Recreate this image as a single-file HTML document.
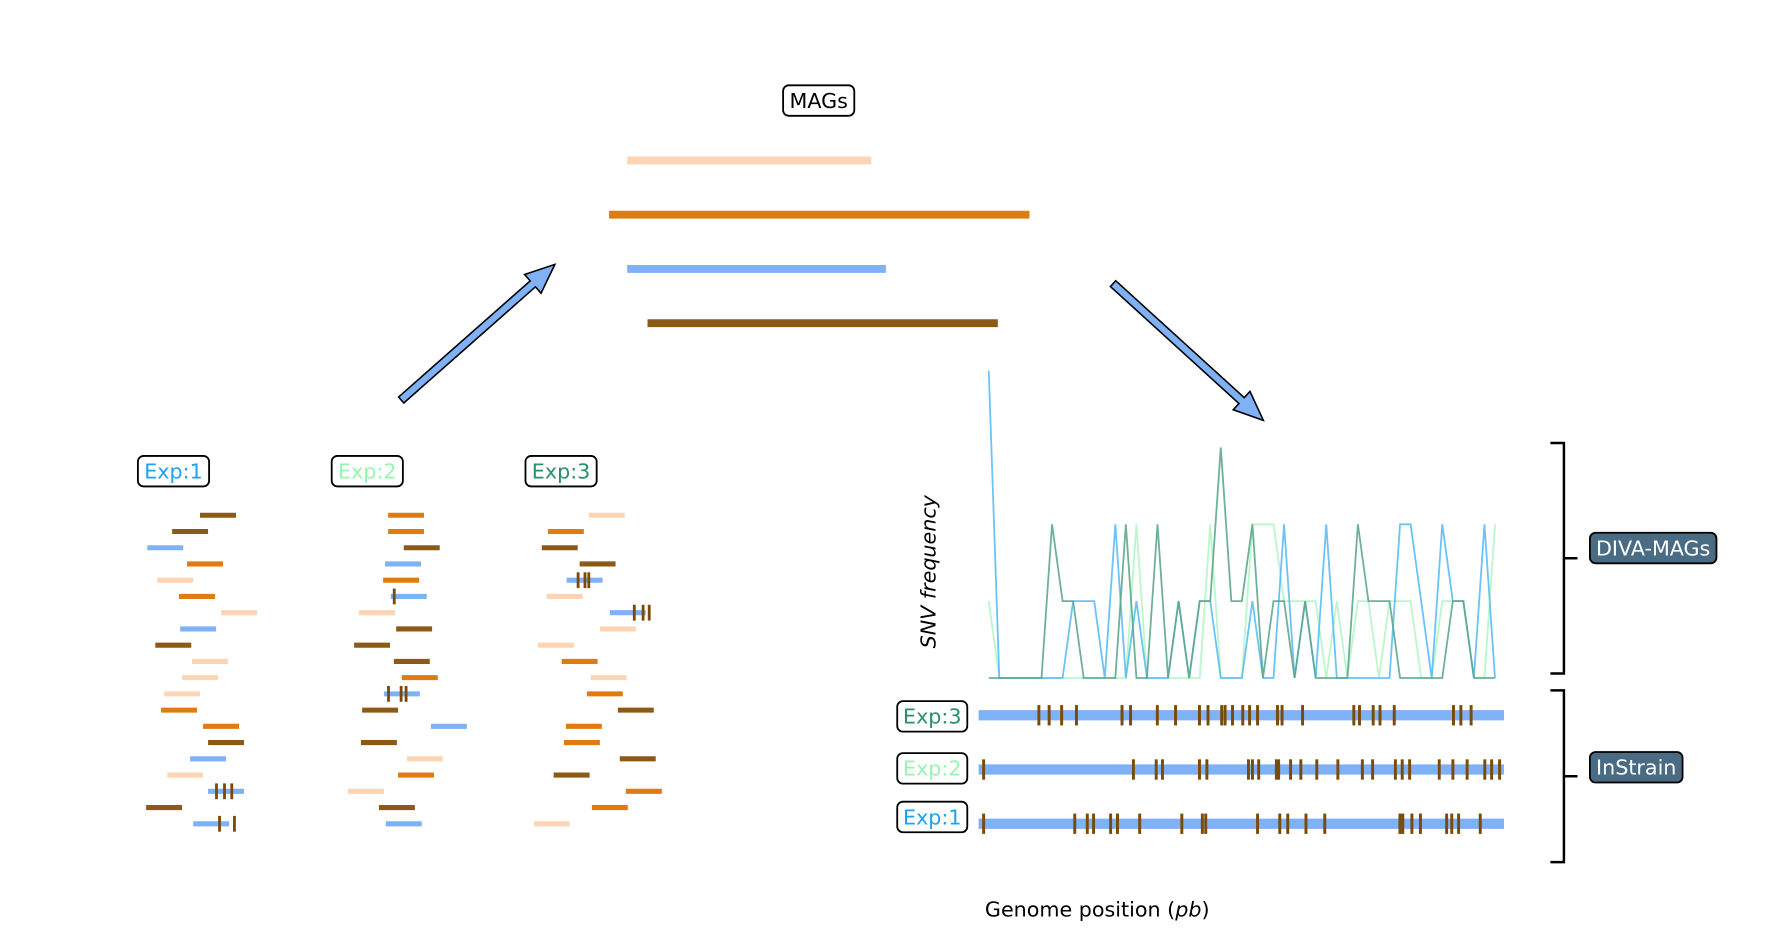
<!DOCTYPE html>
<html><head><meta charset="utf-8"><style>
html,body{margin:0;padding:0;background:#fff;}
svg{display:block;font-family:"DejaVu Sans","Liberation Sans",sans-serif;}
</style></head><body>
<svg id="fig" width="1773" height="939" viewBox="0 0 1569 831" xmlns="http://www.w3.org/2000/svg">
<g id="mags"></g>
<g id="reads"></g>
<g id="chart"></g>
<g id="instrain"></g>
<g id="labels"></g>
</svg>
<script>
// ---- data ----
const magColors = ["#fdd5b4","#e07b10","#7fb1f6","#8b5a17"];
const magStart = [555,539,555,573];
const magEnd = [771,911,784,883];
const magY = [142,190,238,286];

const readColorKeys = {P:"#fdd5b4",O:"#e07b10",B:"#7fb1f6",N:"#8b5a17"};
const g1Start=[261,188,123,227,149,206,316,209,144,240,214,167,159,269,282,235,175,282,120,243];
const g1Col="NNBOPOPBNPPPOONBPBNB";
const g2Start=[753,753,794,745,740,760,677,774,664,768,789,742,685,865,682,802,779,648,729,747];
const g2Col="OONBOBPNNNOBNBNPOPNB";
const g3Start=[1278,1171,1155,1254,1220,1168,1333,1307,1145,1207,1283,1273,1354,1218,1213,1359,1186,1375,1286,1134];
const g3Col="PONNBPBPPOPONOONNOOP";
const g1Ticks={17:[304,325,344],19:[312,351]};
const g2Ticks={5:[769],11:[754,787,800]};
const g3Ticks={4:[1250,1268,1278],6:[1397,1420,1436]};

const blueSeries=[4,0,0,0,0,0,0,0,1,1,1,0,2,0,1,0,0,0,1,0,1,1,0,0,0,1,0,0,2,0,1,0,2,0,0,0,0,0,0,2,2,1,0,2,1,1,0,2,0];
const darkSeries=[0,0,0,0,0,0,2,1,1,0,0,0,0,2,0,0,2,0,1,0,1,1,3,1,1,2,0,1,1,0,1,0,0,0,0,2,1,1,1,0,0,0,0,0,1,1,0,0,0];
const lightSeries=[1,0,0,0,0,0,0,0,0,0,0,0,0,0,2,0,0,0,0,0,0,2,0,0,0,2,2,2,1,1,1,1,0,1,0,1,1,0,1,1,1,0,0,1,1,1,0,0,2];

const exp3Ticks=[280,298,320,346,426,441,488,520,562,577,601,607,620,638,650,664,699,707,743,833,843,867,879,904,1008,1021,1039];
const exp2Ticks=[183,446,486,497,562,575,648,655,666,697,701,722,740,768,805,848,866,906,918,931,983,1007,1032,1063,1075,1089];
const exp1Ticks=[183,343,365,376,406,418,457,531,567,573,664,703,717,749,782,914,919,935,950,996,1005,1017,1055];

// ---- helpers ----
const NS="http://www.w3.org/2000/svg";
function mk(tag,attrs,parent){const e=document.createElementNS(NS,tag);for(const k in attrs)e.setAttribute(k,attrs[k]);parent.appendChild(e);return e;}
const readX=v=>88.7+v*0.3383;
const readLen=31.8;
const rowY=i=>456+i*14.37;
const chartX=i=>875+i*(448/48);
const chartY=v=>600-v*68;
const genomeX=v=>875+(v-192)*0.504;

// MAG bars
const gm=document.getElementById('mags');
for(let i=0;i<4;i++){
  const l=mk('line',{x1:magStart[i],x2:magEnd[i],y1:magY[i],y2:magY[i],stroke:magColors[i],'stroke-width':7},gm);
  
  
}

// reads
const gr=document.getElementById('reads');
[[g1Start,g1Col,g1Ticks],[g2Start,g2Col,g2Ticks],[g3Start,g3Col,g3Ticks]].forEach((g,gi)=>{
  g[0].forEach((s,i)=>{
    const x=readX(s);
    const l=mk('line',{x1:x,x2:x+readLen,y1:rowY(i),y2:rowY(i),stroke:readColorKeys[g[1][i]],'stroke-width':4.5},gr);
    
    
  });
  for(const r in g[2]){
    g[2][r].forEach(t=>{
      const x=readX(t);
      const l=mk('line',{x1:x,x2:x,y1:rowY(+r)-7,y2:rowY(+r)+7,stroke:"#7a4a08",'stroke-width':2.5},gr);
      
      
    });
  }
});

// chart
const gc=document.getElementById('chart');
[[lightSeries,"#b4f5c8"],[blueSeries,"#5bbcf7"],[darkSeries,"#5fa98c"]].forEach((s,si)=>{
  const pts=s[0].map((v,i)=>chartX(i)+','+chartY(v)).join(' ');
  const p=mk('polyline',{points:pts,fill:'none',stroke:s[1],'stroke-width':1.6,'stroke-opacity':0.9},gc);
  
  
});

// instrain bars
const gi=document.getElementById('instrain');
[[exp3Ticks,633],[exp2Ticks,681],[exp1Ticks,729]].forEach((e,k)=>{
  const b=mk('line',{x1:866,x2:1331,y1:e[1],y2:e[1],stroke:"#7fb1f6",'stroke-width':9},gi);
  
  
  e[0].forEach(t=>{
    const x=genomeX(t);
    const l=mk('line',{x1:x,x2:x,y1:e[1]-9,y2:e[1]+9,stroke:"#7a4a08",'stroke-width':2.6},gi);
    
    
  });
});

// labels and boxes
const gl=document.getElementById('labels');
function box(cx,cy,w,h,text,color,fill,name){
  const r=mk('rect',{x:cx-w/2,y:cy-h/2,width:w,height:h,rx:5,fill:fill,stroke:'#000','stroke-width':1.6},gl);
  
  
  const t=mk('text',{x:cx,y:cy+6.5,'text-anchor':'middle','font-size':18.3,fill:color},gl);
  t.textContent=text;
  
  
}
box(724.5,89,63,27,"MAGs","#000","#fff","mags-label");
box(153.5,417,63,27,"Exp:1","#1aa3f0","#fff","exp1-label");
box(325,417,63,27,"Exp:2","#98f5b0","#fff","exp2-label");
box(496.5,417,63,27,"Exp:3","#2a9068","#fff","exp3-label");
box(825,634,62,27,"Exp:3","#2a9068","#fff","exp3-genome-label");
box(825,680,62,27,"Exp:2","#98f5b0","#fff","exp2-genome-label");
box(825,723,62,27,"Exp:1","#1aa3f0","#fff","exp1-genome-label");
box(1463,485,112,27,"DIVA-MAGs","#fff","#4a6b84","diva-mags-label");
box(1448,679,82,27,"InStrain","#fff","#4a6b84","instrain-label");

// brackets
function bracket(y1,y2,name){
  const m=(y1+y2)/2;
  const p=mk('path',{d:`M1372 ${y1} H1384 V${y2} H1372 M1384 ${m} H1396`,fill:'none',stroke:'#000','stroke-width':2.2},gl);
  
  
}
bracket(392,596,'diva-mags-bracket');
bracket(611,763,'instrain-bracket');

// arrows
function arrow(x1,y1,x2,y2,name){
  const dx=x2-x1,dy=y2-y1,L=Math.hypot(dx,dy),ux=dx/L,uy=dy/L,nx=-uy,ny=ux;
  const bw=3.5,hw=11,hl=26;
  const bx=x2-ux*hl,by=y2-uy*hl;
  const P=[[x1+nx*bw,y1+ny*bw],[bx+nx*bw,by+ny*bw],[bx+nx*hw,by+ny*hw],[x2,y2],[bx-nx*hw,by-ny*hw],[bx-nx*bw,by-ny*bw],[x1-nx*bw,y1-ny*bw]];
  const p=mk('polygon',{points:P.map(q=>q.join(',')).join(' '),fill:'#7fb1f6',stroke:'#000','stroke-width':1.4},gl);
  
  
}
arrow(355,354,491,234,'arrow-reads-to-mags');
arrow(985,251,1118,372,'arrow-mags-to-snv');

// axis titles
const yt=mk('text',{x:0,y:0,transform:'translate(828,506) rotate(-90)','text-anchor':'middle','font-size':18.3,'font-style':'italic',fill:'#000'},gl);
yt.textContent="SNV frequency";


const xt=mk('text',{x:971,y:811,'text-anchor':'middle','font-size':18.3,fill:'#000'},gl);
xt.innerHTML='Genome position (<tspan font-style="italic">pb</tspan>)';


</script>
</body></html>
